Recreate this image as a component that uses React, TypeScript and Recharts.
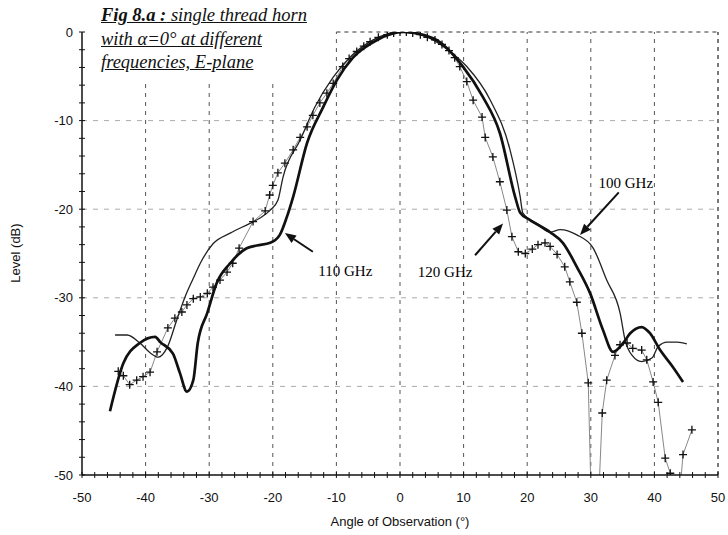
import React from 'react';
import { LineChart, Line, XAxis, YAxis, ReferenceLine, ReferenceDot } from 'recharts';

// 100 GHz (thin line)
const angles100 = [-44.8, -42.9, -40.9, -39.3, -38, -36.6, -35.1, -33.8, -32.5, -31.4, -29.4, -26.7, -23.6, -22, -20.4, -19.2, -18.4, -15.7, -13.4, -10.5, -7.5, -4, 0, 4, 7.5, 10.5, 14.2, 17.3, 18.9, 19.3, 21.5, 23.6, 25.2, 27.8, 30.3, 32.5, 34.6, 35.4, 36.5, 38, 39.6, 40.6, 42, 43.6, 45.1];
const level100 = [-34.2, -34.2, -35.1, -36.2, -36.7, -35.6, -32.5, -29.9, -27.8, -26.1, -23.9, -22.7, -21.6, -21, -20.1, -19, -16.4, -12.2, -8.5, -5.1, -2.6, -0.8, 0, -0.5, -2, -3.9, -7.7, -13.3, -18.6, -20.4, -21.6, -22.6, -22.3, -22.9, -24.3, -28, -31.7, -34.8, -36.5, -37.2, -36.8, -35.5, -35, -35, -35.2];

// 110 GHz (thick line)
const angles110 = [-45.6, -43.5, -40.9, -38.5, -37.7, -35.7, -34.6, -33.5, -32.5, -31.8, -30.3, -28.8, -26.7, -24.1, -22.5, -20.4, -18.9, -17.8, -16.8, -14.6, -12.1, -9.9, -7.4, -3.6, 0.5, 5.2, 9.9, 13, 15.7, 18.1, 18.9, 20.4, 23.6, 25.6, 27.8, 29.9, 31.9, 33.5, 35.1, 36.2, 38, 39.3, 40.9, 42.9, 44.5];
const level110 = [-42.8, -37.4, -35.1, -34.4, -35, -36.3, -38.5, -40.6, -39.3, -35.1, -31.7, -28.3, -26.1, -24.4, -24.1, -23.8, -22.9, -20.9, -18.6, -12.5, -8.5, -5.4, -2.9, -0.9, 0, -0.7, -3.9, -7.3, -11.4, -18.6, -20.4, -21.2, -22.6, -23.8, -26.5, -29.5, -33.6, -36.1, -35.1, -34, -33.3, -34, -35.9, -37.8, -39.5];

// 120 GHz (thin line with + markers)
const angles120 = [-44.3, -43.5, -42.5, -41.4, -40.4, -39.3, -38.2, -36.5, -35.4, -34.3, -33.5, -32.5, -31.4, -30.3, -29.4, -28.3, -27.2, -26.3, -25.3, -23.1, -21.2, -20.5, -20, -19.2, -18.1, -16.8, -15.7, -14.6, -13.7, -12.6, -11.5, -10.5, -9, -8, -6.8, -5.7, -4.7, -3.4, -2, -1, 0, 1, 2, 3.2, 4.3, 5.5, 6.6, 7.7, 8.6, 9.4, 10.5, 11.5, 12.9, 13.4, 14.6, 15.7, 16.8, 17.6, 18.6, 19.7, 20.8, 21.7, 22.8, 23.6, 24.7, 25.9, 26.7, 27.8, 28.6, 29.6, 30.3, 30.8, 31.8, 32.5, 33.8, 34.6, 35.7, 36.6, 38, 38.8, 39.8, 40.6, 41.7, 42.5, 43.3, 44, 44.5, 45.9];
const level120 = [-38.3, -38.8, -39.8, -39.3, -38.9, -38.4, -36.1, -33.4, -32.3, -31.6, -30.8, -30.1, -29.9, -29.5, -28.8, -28, -27.1, -26.1, -24.4, -21.4, -20.2, -18.4, -17.3, -15.9, -14.8, -13.3, -11.9, -10.7, -9.4, -8, -6.9, -5.8, -3.9, -3, -2.2, -1.6, -1.1, -0.6, -0.3, -0.1, 0, 0, -0.1, -0.3, -0.6, -0.9, -1.4, -2.1, -2.9, -3.9, -5.6, -7.7, -9.6, -11.9, -14.1, -16.9, -20.1, -23.1, -24.8, -25, -24.5, -24, -23.8, -24.2, -25.1, -26.5, -28.2, -30.5, -34, -39.6, -60, -60, -43, -39.3, -36.5, -35.3, -35.1, -35.7, -35.9, -37, -39.5, -41.8, -48.1, -49.8, -52, -52, -47.7, -44.9];

const xTicks = [-50, -48, -46, -44, -42, -40, -38, -36, -34, -32, -30, -28, -26, -24, -22, -20, -18, -16, -14, -12, -10, -8, -6, -4, -2, 0, 2, 4, 6, 8, 10, 12, 14, 16, 18, 20, 22, 24, 26, 28, 30, 32, 34, 36, 38, 40, 42, 44, 46, 48, 50];
const yTicks = [-50, -48, -46, -44, -42, -40, -38, -36, -34, -32, -30, -28, -26, -24, -22, -20, -18, -16, -14, -12, -10, -8, -6, -4, -2, 0];

// grid: vertical lines hidden behind the title box stop at titleBoxBottom
const gridXShort = [-40, -30, -20];
const gridXFull = [-10, 0, 10, 20, 30, 40];
const gridY = [-10, -20, -30, -40];
const titleBoxBottom = -5.6;

const annotations = [
  { text: '100 GHz', tx: 35.5, ty: -17, from: { x: 34.4, y: -18.1 }, to: { x: 28.3, y: -22.9 } },
  { text: '110 GHz', tx: -8.6, ty: -26.9, from: { x: -13.7, y: -24.8 }, to: { x: -18.1, y: -22.7 } },
  { text: '120 GHz', tx: 7.1, ty: -27.1, from: { x: 11.8, y: -25.2 }, to: { x: 16.2, y: -21.6 } },
];

const toPoints = (xs: number[], ys: number[]) => xs.map((x, i) => ({ angle: x, level: ys[i] }));
const data100 = toPoints(angles100, level100);
const data110 = toPoints(angles110, level110);
const data120 = toPoints(angles120, level120);

const sans = '"Liberation Sans", Arial, sans-serif';
const serif = '"Liberation Serif", "Times New Roman", serif';

const XTick = (props: any) => {
  const { x, y, payload } = props;
  const major = payload.value % 10 === 0;
  return (
    <g>
      <line x1={x} x2={x} y1={y - 3} y2={y + 3} stroke="#111" strokeWidth={1} />
      {major && (
        <text x={x} y={y + 27} textAnchor="middle" fontSize={13} fontFamily={sans} fill="#111">
          {payload.value}
        </text>
      )}
    </g>
  );
};

const YTick = (props: any) => {
  const { x, y, payload } = props;
  const major = payload.value % 10 === 0;
  return (
    <g>
      <line x1={x - 3} x2={x + 3} y1={y} y2={y} stroke="#111" strokeWidth={1} />
      {major && (
        <text x={x - 9} y={y + 4.5} textAnchor="end" fontSize={13} fontFamily={sans} fill="#111">
          {payload.value}
        </text>
      )}
    </g>
  );
};

const PlusDot = (props: any) => {
  const { cx, cy, payload } = props;
  if (payload.level < -50 || cx == null) return null;
  return (
    <path d={`M${cx - 4},${cy}H${cx + 4}M${cx},${cy - 4}V${cy + 4}`} stroke="#111" strokeWidth={1.3} fill="none" />
  );
};

const Arrow = (props: any) => {
  const { x1, y1, x2, y2 } = props;
  const ang = Math.atan2(y2 - y1, x2 - x1);
  const len = 11;
  const w = 4.5;
  const bx = x2 - len * Math.cos(ang);
  const by = y2 - len * Math.sin(ang);
  const px = -Math.sin(ang) * w;
  const py = Math.cos(ang) * w;
  return (
    <g>
      <line x1={x1} y1={y1} x2={bx} y2={by} stroke="#111" strokeWidth={2} />
      <polygon points={`${x2},${y2} ${bx + px},${by + py} ${bx - px},${by - py}`} fill="#111" />
    </g>
  );
};

export default function App() {
  const vDash = { stroke: '#555', strokeDasharray: '4 5', strokeWidth: 1 };
  const hDash = { stroke: '#aaa', strokeDasharray: '5 6', strokeWidth: 1 };
  return (
    <div style={{ position: 'relative', width: 728, height: 535, background: '#fff' }}>
      <style>{`body{margin:0;background:#fff}`}</style>
      <LineChart width={728} height={535} margin={{ top: 32, right: 10, left: 0, bottom: 0 }}>
        <XAxis
          dataKey="angle"
          type="number"
          domain={[-50, 50]}
          ticks={xTicks}
          interval={0}
          tick={<XTick />}
          tickLine={false}
          tickSize={0}
          tickMargin={0}
          height={60}
          axisLine={{ stroke: '#111', strokeWidth: 1.5 }}
          allowDataOverflow
        />
        <YAxis
          dataKey="level"
          type="number"
          domain={[-50, 0]}
          ticks={yTicks}
          interval={0}
          tick={<YTick />}
          tickLine={false}
          tickSize={0}
          tickMargin={0}
          width={82}
          axisLine={{ stroke: '#111', strokeWidth: 1.5 }}
          allowDataOverflow
        />
        {gridY.map((v) => (
          <ReferenceLine key={'h' + v} y={v} {...hDash} />
        ))}
        <ReferenceLine segment={[{ x: -10, y: 0 }, { x: 50, y: 0 }]} stroke="#333" strokeDasharray="4 4" />
        {gridXShort.map((v) => (
          <ReferenceLine key={'vs' + v} segment={[{ x: v, y: -50 }, { x: v, y: titleBoxBottom }]} {...vDash} />
        ))}
        {gridXFull.map((v) => (
          <ReferenceLine key={'vf' + v} x={v} {...vDash} />
        ))}
        <ReferenceLine x={50} stroke="#222" strokeDasharray="4 4" strokeWidth={1.2} />
        <Line data={data120} dataKey="level" type="linear" stroke="#888" strokeWidth={1} dot={<PlusDot />} activeDot={false} isAnimationActive={false} />
        <Line data={data100} dataKey="level" type="monotone" stroke="#222" strokeWidth={1.3} dot={false} activeDot={false} isAnimationActive={false} />
        <Line data={data110} dataKey="level" type="monotone" stroke="#111" strokeWidth={2.7} dot={false} activeDot={false} isAnimationActive={false} />
        {annotations.map((a) => (
          <ReferenceLine key={'a' + a.text} segment={[a.from, a.to]} shape={<Arrow />} />
        ))}
        {annotations.map((a) => (
          <ReferenceDot
            key={'t' + a.text}
            x={a.tx}
            y={a.ty}
            r={0}
            fill="none"
            stroke="none"
            label={{ value: a.text, position: 'center', fill: '#000', fontSize: 15, fontFamily: serif }}
          />
        ))}
      </LineChart>
      <div
        style={{
          position: 'absolute',
          left: 101,
          top: 4,
          fontFamily: serif,
          fontStyle: 'italic',
          fontSize: 18.5,
          lineHeight: '23.5px',
          textDecoration: 'underline',
          color: '#111',
        }}
      >
        <div>
          <b>Fig 8.a :</b> single thread horn
        </div>
        <div>with α=0° at different</div>
        <div>frequencies, E-plane</div>
      </div>
      <div
        style={{
          position: 'absolute',
          left: 400,
          top: 514,
          transform: 'translateX(-50%)',
          whiteSpace: 'nowrap',
          fontFamily: sans,
          fontSize: 13,
          color: '#111',
        }}
      >
        Angle of Observation (°)
      </div>
      <div
        style={{
          position: 'absolute',
          left: 15,
          top: 253,
          transform: 'translate(-50%, -50%) rotate(-90deg)',
          fontFamily: sans,
          fontSize: 13,
          color: '#111',
          whiteSpace: 'nowrap',
        }}
      >
        Level (dB)
      </div>
    </div>
  );
}
